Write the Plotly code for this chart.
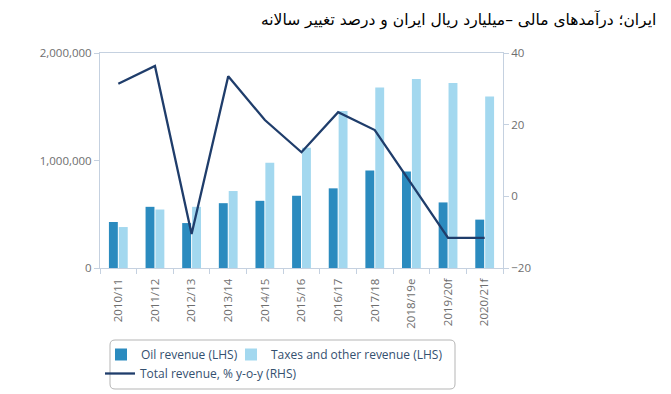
import plotly.graph_objects as go

categories = ["2010/11", "2011/12", "2012/13", "2013/14", "2014/15", "2015/16",
              "2016/17", "2017/18", "2018/19e", "2019/20f", "2020/21f"]
oil_revenue = [428000, 569000, 418000, 603000, 625000, 672000, 741000, 906000, 897000, 610000, 450000]
taxes_other = [381000, 544000, 569000, 716000, 978000, 1119000, 1460000, 1679000, 1757000, 1722000, 1595000]
total_yoy = [31.4, 36.4, -10.5, 33.5, 21.3, 12.3, 23.5, 18.5, 3.5, -11.6, -11.6]

title_text = "ایران؛ درآمدهای مالی –میلیارد ریال ایران و درصد تغییر سالانه"

# plot-area geometry (pixels)
L, R, T, B = 100, 503, 53, 268
W, H = R - L, B - T


def px_x(x):
    return (x - L) / W


def px_y(y):
    return (B - y) / H


AXIS_COLOR = "#c5d1e0"
TICK_FONT = dict(family="Open Sans", size=11.5, color="#6e6e6e")
LEG_FONT = dict(family="Open Sans", size=12, color="#34506f")

fig = go.Figure()
fig.add_trace(go.Bar(x=categories, y=oil_revenue, name="Oil revenue (LHS)",
                     marker=dict(color="#2b8bbf", line=dict(width=0)), legend="legend"))
fig.add_trace(go.Bar(x=categories, y=taxes_other, name="Taxes and other revenue (LHS)",
                     marker=dict(color="#a3d8ef", line=dict(width=0)), legend="legend3"))
fig.add_trace(go.Scatter(x=categories, y=total_yoy, name="Total revenue, % y-o-y (RHS)",
                         mode="lines", yaxis="y2", legend="legend2",
                         line=dict(color="#1f3d6b", width=2.3)))

# rounded legend frame
x0, x1, y0, y1, r = px_x(110), px_x(455), px_y(340), px_y(389), 5
rx, ry = r / W, r / H
frame = (f"M {x0+rx},{y0} L {x1-rx},{y0} Q {x1},{y0} {x1},{y0-ry} "
         f"L {x1},{y1+ry} Q {x1},{y1} {x1-rx},{y1} L {x0+rx},{y1} "
         f"Q {x0},{y1} {x0},{y1+ry} L {x0},{y0-ry} Q {x0},{y0} {x0+rx},{y0} Z")

leg_common = dict(orientation="h", xanchor="left", yanchor="top",
                  bgcolor="rgba(0,0,0,0)", borderwidth=0, font=LEG_FONT, itemwidth=30)

fig.update_layout(
    width=671, height=394,
    margin=dict(l=L, r=671 - R, t=T, b=394 - B, autoexpand=False),
    paper_bgcolor="white", plot_bgcolor="white",
    barmode="group", bargap=0.46, bargroupgap=0.1,
    showlegend=True,
    legend=dict(x=px_x(101), y=px_y(340), **leg_common),
    legend3=dict(x=px_x(231), y=px_y(340), **leg_common),
    legend2=dict(x=px_x(100), y=px_y(359), **leg_common),
    xaxis=dict(type="category", showline=True, linecolor=AXIS_COLOR, linewidth=1,
               mirror=True, ticks="outside", tickson="boundaries", ticklen=5,
               tickcolor=AXIS_COLOR, tickangle=-90, tickfont=TICK_FONT,
               ticklabelstandoff=5, automargin=False,
               showgrid=False, zeroline=False),
    yaxis=dict(range=[0, 2000000], tickvals=[0, 1000000, 2000000],
               ticktext=["0", "1,000,000", "2,000,000"],
               showline=True, linecolor=AXIS_COLOR, linewidth=1,
               ticks="outside", ticklen=5, tickcolor=AXIS_COLOR, automargin=False,
               tickfont=TICK_FONT, showgrid=False, zeroline=False),
    yaxis2=dict(range=[-20, 40], tickvals=[-20, 0, 20, 40], overlaying="y", side="right",
                showline=True, linecolor=AXIS_COLOR, linewidth=1, automargin=False,
                ticks="outside", ticklen=5, tickcolor=AXIS_COLOR,
                tickfont=TICK_FONT, showgrid=False, zeroline=False),
    shapes=[dict(type="path", xref="paper", yref="paper", path=frame,
                 line=dict(color="#b5b5b5", width=1), fillcolor="rgba(0,0,0,0)", layer="below")],
    annotations=[dict(text=title_text, xref="paper", yref="paper",
                      x=px_x(658), y=px_y(20),
                      xanchor="right", yanchor="middle", showarrow=False,
                      font=dict(family="DejaVu Sans", size=15.5, color="#000000"))],
)

fig.write_html("out.html", config={"displayModeBar": False},
               post_script="document.body.style.margin='0';")
